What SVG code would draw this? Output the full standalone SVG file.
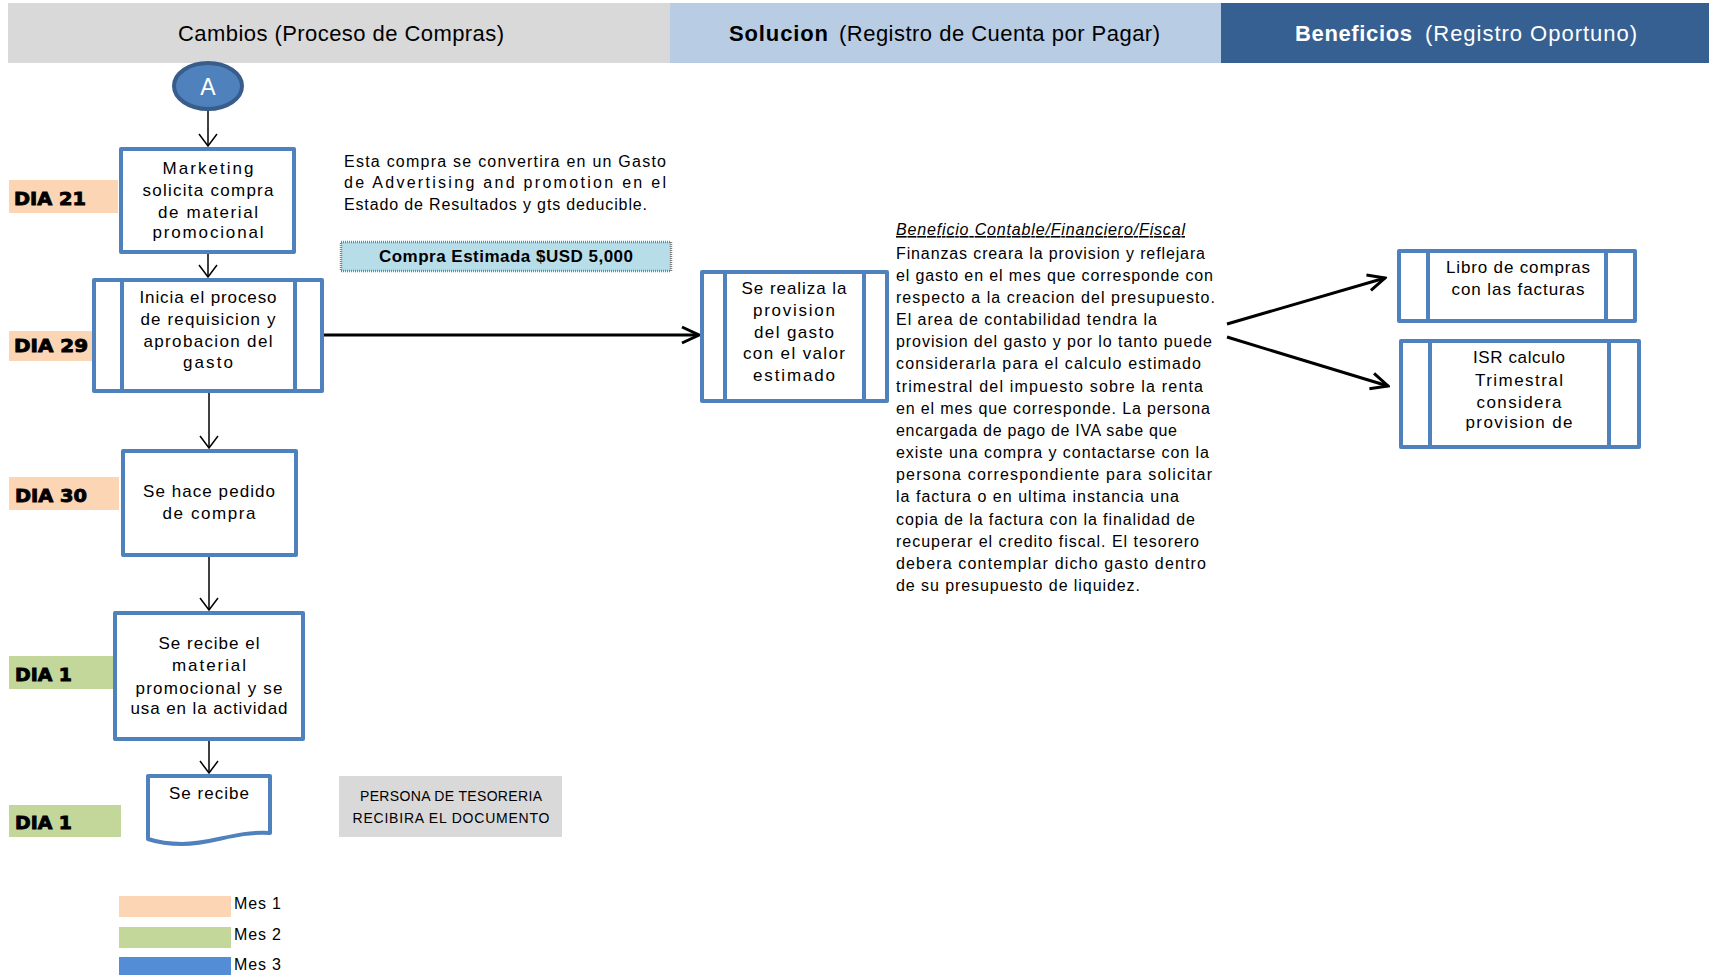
<svg xmlns="http://www.w3.org/2000/svg" width="1709" height="975" viewBox="0 0 1709 975">
<style>
text{font-family:"Liberation Sans",Arial,sans-serif;fill:#000}
.hd{font-size:22px}
.hb{font-size:22px;font-weight:bold}
.bx{font-size:17px;text-anchor:middle}
.p{font-size:16px}
.day{font-family:"DejaVu Sans","Liberation Sans",sans-serif;font-size:18px;font-weight:bold;stroke:#000;stroke-width:0.9}
.box{fill:#fff;stroke:#4F81BD;stroke-width:4;stroke-linejoin:round}
.in{stroke:#4F81BD;stroke-width:4}
.c1{fill:#FCD5B4}
.c2{fill:#C4D79B}
.c3{fill:#538DD5}
.cn{stroke:#000;fill:none}
.thin{stroke-width:1.5}
.thick{stroke-width:3}
.leg{font-size:16px}
</style>
<defs>
<marker id="ah" viewBox="-14 -11 16 22" markerWidth="16" markerHeight="22" refX="0" refY="0" orient="auto" markerUnits="userSpaceOnUse">
<path d="M-12,-9 L0,0 L-12,9" fill="none" stroke="#000" stroke-width="1.5"/>
</marker>
<marker id="ahb" viewBox="-20 -11 22 22" markerWidth="22" markerHeight="22" refX="0" refY="0" orient="auto" markerUnits="userSpaceOnUse">
<path d="M-17,-8 L0,0 L-17,8" fill="none" stroke="#000" stroke-width="3"/>
</marker>
</defs>

<g id="header">
<rect x="8" y="3" width="662" height="60" fill="#D9D9D9"/>
<rect x="670" y="3" width="551" height="60" fill="#B8CCE4"/>
<rect x="1221" y="3" width="488" height="60" fill="#366092"/>
<text class="hd" x="178" y="41" textLength="326">Cambios (Proceso de Compras)</text>
<text class="hb" x="729" y="41" textLength="99">Solucion</text>
<text class="hd" x="839" y="41" textLength="321">(Registro de Cuenta por Pagar)</text>
<text class="hb" x="1295" y="41" textLength="117" style="fill:#fff">Beneficios</text>
<text class="hd" x="1425" y="41" textLength="212" style="fill:#fff">(Registro Oportuno)</text>
</g>

<g id="connectors">
<line class="cn thin" x1="208" y1="111" x2="208" y2="146" marker-end="url(#ah)"/>
<line class="cn thin" x1="208" y1="254" x2="208" y2="277" marker-end="url(#ah)"/>
<line class="cn thick" x1="324" y1="335" x2="699" y2="335" marker-end="url(#ahb)"/>
<line class="cn thin" x1="209" y1="393" x2="209" y2="448" marker-end="url(#ah)"/>
<line class="cn thin" x1="209" y1="557" x2="209" y2="610" marker-end="url(#ah)"/>
<line class="cn thin" x1="209" y1="741" x2="209" y2="773" marker-end="url(#ah)"/>
<line class="cn thick" x1="1227" y1="324" x2="1385" y2="278" marker-end="url(#ahb)"/>
<line class="cn thick" x1="1227" y1="337" x2="1388" y2="386" marker-end="url(#ahb)"/>
</g>

<g id="nodeA">
<ellipse cx="208" cy="86" rx="34" ry="23" fill="#4F81BD" stroke="#385D8A" stroke-width="4"/>
<text x="208" y="95" font-size="23" text-anchor="middle" style="fill:#fff">A</text>
</g>

<g id="day21"><rect class="c1" x="9" y="180" width="109" height="33"/><text class="day" x="14" y="205" textLength="72" lengthAdjust="spacingAndGlyphs">DIA 21</text></g>
<g id="day29"><rect class="c1" x="9" y="331" width="83" height="30"/><text class="day" x="14" y="352" textLength="74" lengthAdjust="spacingAndGlyphs">DIA 29</text></g>
<g id="day30"><rect class="c1" x="9" y="477" width="110" height="33"/><text class="day" x="15" y="502" textLength="72" lengthAdjust="spacingAndGlyphs">DIA 30</text></g>
<g id="day1a"><rect class="c2" x="9" y="656" width="104" height="33"/><text class="day" x="15" y="681" textLength="57" lengthAdjust="spacingAndGlyphs">DIA 1</text></g>
<g id="day1b"><rect class="c2" x="9" y="805" width="112" height="32"/><text class="day" x="15" y="829" textLength="57" lengthAdjust="spacingAndGlyphs">DIA 1</text></g>

<g id="box1">
<rect class="box" x="121" y="149" width="173" height="103"/>
<text class="bx" x="208" y="174" textLength="91">Marketing</text>
<text class="bx" x="208" y="196" textLength="131">solicita compra</text>
<text class="bx" x="208" y="218" textLength="100">de material</text>
<text class="bx" x="208" y="238" textLength="111">promocional</text>
</g>

<g id="note1">
<text class="p" x="344" y="167" textLength="322">Esta compra se convertira en un Gasto</text>
<text class="p" x="344" y="188" textLength="322">de Advertising and promotion en el</text>
<text class="p" x="344" y="210" textLength="303">Estado de Resultados y gts deducible.</text>
</g>

<g id="compraEstimada">
<rect x="341" y="242" width="330" height="29" fill="#B7DEE8" stroke="#7F7F7F" stroke-width="2.5" stroke-dasharray="1 1"/>
<text x="506" y="262" font-size="17" font-weight="bold" text-anchor="middle" textLength="254">Compra Estimada $USD 5,000</text>
</g>

<g id="box2">
<rect class="box" x="94" y="280" width="228" height="111"/>
<line class="in" x1="122" y1="280" x2="122" y2="391"/>
<line class="in" x1="295" y1="280" x2="295" y2="391"/>
<text class="bx" x="208" y="303" textLength="137">Inicia el proceso</text>
<text class="bx" x="208" y="325" textLength="135">de requisicion y</text>
<text class="bx" x="208" y="347" textLength="129">aprobacion del</text>
<text class="bx" x="208" y="368" textLength="50">gasto</text>
</g>

<g id="box3">
<rect class="box" x="702" y="272" width="185" height="129"/>
<line class="in" x1="725" y1="272" x2="725" y2="401"/>
<line class="in" x1="864" y1="272" x2="864" y2="401"/>
<text class="bx" x="794" y="294" textLength="105">Se realiza la</text>
<text class="bx" x="794" y="316" textLength="82">provision</text>
<text class="bx" x="794" y="338" textLength="80">del gasto</text>
<text class="bx" x="794" y="359" textLength="102">con el valor</text>
<text class="bx" x="794" y="381" textLength="82">estimado</text>
</g>

<g id="benefit">
<text class="p" x="896" y="235" textLength="289" font-style="italic" text-decoration="underline">Beneficio Contable/Financiero/Fiscal</text>
<text class="p" x="896" y="259" textLength="309">Finanzas creara la provision y reflejara</text>
<text class="p" x="896" y="281" textLength="317">el gasto en el mes que corresponde con</text>
<text class="p" x="896" y="303" textLength="319">respecto a la creacion del presupuesto.</text>
<text class="p" x="896" y="325" textLength="261">El area de contabilidad tendra la</text>
<text class="p" x="896" y="347" textLength="316">provision del gasto y por lo tanto puede</text>
<text class="p" x="896" y="369" textLength="305">considerarla para el calculo estimado</text>
<text class="p" x="896" y="392" textLength="307">trimestral del impuesto sobre la renta</text>
<text class="p" x="896" y="414" textLength="314">en el mes que corresponde. La persona</text>
<text class="p" x="896" y="436" textLength="281">encargada de pago de IVA sabe que</text>
<text class="p" x="896" y="458" textLength="313">existe una compra y contactarse con la</text>
<text class="p" x="896" y="480" textLength="316">persona correspondiente para solicitar</text>
<text class="p" x="896" y="502" textLength="283">la factura o en ultima instancia una</text>
<text class="p" x="896" y="525" textLength="299">copia de la factura con la finalidad de</text>
<text class="p" x="896" y="547" textLength="303">recuperar el credito fiscal. El tesorero</text>
<text class="p" x="896" y="569" textLength="310">debera contemplar dicho gasto dentro</text>
<text class="p" x="896" y="591" textLength="244">de su presupuesto de liquidez.</text>
</g>

<g id="box4">
<rect class="box" x="1399" y="251" width="236" height="70"/>
<line class="in" x1="1428" y1="251" x2="1428" y2="321"/>
<line class="in" x1="1606" y1="251" x2="1606" y2="321"/>
<text class="bx" x="1518" y="273" textLength="144">Libro de compras</text>
<text class="bx" x="1518" y="295" textLength="133">con las facturas</text>
</g>

<g id="box5">
<rect class="box" x="1401" y="341" width="238" height="106"/>
<line class="in" x1="1430" y1="341" x2="1430" y2="447"/>
<line class="in" x1="1609" y1="341" x2="1609" y2="447"/>
<text class="bx" x="1519" y="363" textLength="92">ISR calculo</text>
<text class="bx" x="1519" y="386" textLength="88">Trimestral</text>
<text class="bx" x="1519" y="408" textLength="85">considera</text>
<text class="bx" x="1519" y="428" textLength="107">provision de</text>
</g>

<g id="box6">
<rect class="box" x="123" y="451" width="173" height="104"/>
<text class="bx" x="209" y="497" textLength="132">Se hace pedido</text>
<text class="bx" x="209" y="519" textLength="93">de compra</text>
</g>

<g id="box7">
<rect class="box" x="115" y="613" width="188" height="126"/>
<text class="bx" x="209" y="649" textLength="101">Se recibe el</text>
<text class="bx" x="209" y="671" textLength="74">material</text>
<text class="bx" x="209" y="694" textLength="147">promocional y se</text>
<text class="bx" x="209" y="714" textLength="157">usa en la actividad</text>
</g>

<g id="doc">
<path class="box" d="M148,776 H270 V833 C234,831 214,844 182,844 C168,844 157,842 148,839 Z"/>
<text class="bx" x="209" y="799" textLength="80">Se recibe</text>
</g>

<g id="tesoreria">
<rect x="339" y="776" width="223" height="61" fill="#D9D9D9"/>
<text x="451" y="801" font-size="14" text-anchor="middle" textLength="182">PERSONA DE TESORERIA</text>
<text x="451" y="823" font-size="14" text-anchor="middle" textLength="197">RECIBIRA EL DOCUMENTO</text>
</g>

<g id="legend">
<rect class="c1" x="119" y="896" width="112" height="21"/>
<text class="leg" x="234" y="909" textLength="47">Mes 1</text>
<rect class="c2" x="119" y="927" width="112" height="21"/>
<text class="leg" x="234" y="940" textLength="47">Mes 2</text>
<rect class="c3" x="119" y="957" width="112" height="18"/>
<text class="leg" x="234" y="970" textLength="47">Mes 3</text>
</g>
</svg>
